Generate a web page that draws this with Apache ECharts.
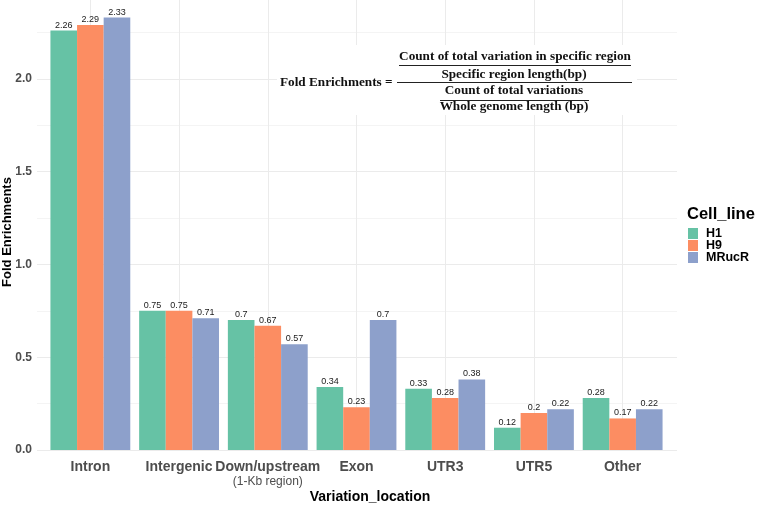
<!DOCTYPE html>
<html>
<head>
<meta charset="utf-8">
<script src="https://cdn.jsdelivr.net/npm/echarts@6/dist/echarts.min.js"></script>
<style>html,body{margin:0;padding:0;background:#fff}#c{width:758px;height:506px}</style>
</head>
<body>
<div id="c"></div>
<script>
const categories = ['Intron', 'Intergenic', 'Down/upstream\n(1-Kb region)', 'Exon', 'UTR3', 'UTR5', 'Other'];
const seriesNames = ['H1', 'H9', 'MRucR'];
const h1Values = [2.26, 0.75, 0.70, 0.34, 0.33, 0.12, 0.28];
const h9Values = [2.29, 0.75, 0.67, 0.23, 0.28, 0.20, 0.17];
const mrucrValues = [2.33, 0.71, 0.57, 0.70, 0.38, 0.22, 0.22];
const colors = ['#66c2a5', '#fc8d62', '#8da0cb'];
const xTitle = 'Variation_location';
const yTitle = 'Fold Enrichments';
const legendTitle = 'Cell_line';
const formulaLeft = 'Fold Enrichments =';
const formulaNum1 = 'Count of total variation in specific region';
const formulaNum2 = 'Specific region length(bp)';
const formulaDen1 = 'Count of total variations';
const formulaDen2 = 'Whole genome length (bp)';

const SANS = '"Liberation Sans", Arial, sans-serif';
const SERIF = '"Liberation Serif", "Times New Roman", serif';

const cv = document.createElement('canvas').getContext('2d');
function fitSize(text, w) {
  cv.font = 'bold 100px ' + SERIF;
  return 100 * w / cv.measureText(text).width;
}
const fSize = fitSize(formulaNum1, 232);

function ftext(text, x, y, align) {
  return {type: 'text', x: x, y: y, z: 110,
    style: {text: text, fontSize: fSize, fontFamily: SERIF, fontWeight: 'bold', fill: '#111',
      align: align || 'center', verticalAlign: 'middle'}};
}
function fline(x1, x2, y) {
  return {type: 'line', z: 110, shape: {x1: x1, y1: y, x2: x2, y2: y}, style: {stroke: '#222', lineWidth: 1}};
}

const Y_MIN = 0, Y_MAX = 2.5, Y_STEP = 0.25;

const valueLists = [h1Values, h9Values, mrucrValues];
const series = seriesNames.map((n, i) => ({
  name: n, type: 'bar', data: valueLists[i],
  barGap: '0%', barCategoryGap: '10%',
  itemStyle: {color: colors[i]},
  label: {show: true, position: 'top', distance: 1, fontSize: 9, fontFamily: SANS, color: '#1a1a1a'},
  z: 2
}));
series.push({
  name: '_grid', type: 'line', data: [], z: 0, silent: true,
  markLine: {silent: true, symbol: 'none', animation: false, z: 0,
    label: {show: false},
    lineStyle: {color: '#ebebeb', width: 1, type: 'solid'},
    data: categories.map((c, i) => ({xAxis: i}))}
});

const chart = echarts.init(document.getElementById('c'), null, {renderer: 'canvas'});
chart.setOption({
  animation: false,
  backgroundColor: '#ffffff',
  textStyle: {fontFamily: SANS},
  grid: [
    {left: 46, right: 91, top: -14, bottom: 56, containLabel: false, outerBoundsMode: 'none'},
    {left: 37, right: 81, top: -14, bottom: 56, containLabel: false, outerBoundsMode: 'none'}
  ],
  title: {text: legendTitle, left: 687, top: 206, padding: 0,
    textStyle: {fontSize: 16.5, fontWeight: 'bold', color: '#000', fontFamily: SANS}},
  legend: {data: seriesNames, orient: 'vertical', left: 688, top: 227, padding: 0,
    icon: 'rect', itemWidth: 10, itemHeight: 11, itemGap: -1,
    textStyle: {fontSize: 12.5, fontWeight: 'bold', color: '#000', fontFamily: SANS, lineHeight: 12, padding: [0, 0, 0, 3]}},
  xAxis: [{
    type: 'category', data: categories, gridIndex: 0,
    name: xTitle, nameLocation: 'middle', nameGap: 40, nameMoveOverlap: false,
    nameTextStyle: {fontSize: 14, fontWeight: 'bold', color: '#000', fontFamily: SANS, padding: [0, 0, 0, 27]},
    axisLine: {show: false}, axisTick: {show: false},
    splitLine: {show: false},
    axisLabel: {
      margin: 10, interval: 0,
      formatter: v => {
        const p = v.split('\n');
        return p.length > 1 ? '{a|' + p[0] + '}\n{b|' + p[1] + '}' : '{a|' + v + '}';
      },
      rich: {
        a: {fontSize: 14, fontWeight: 'bold', color: '#4d4d4d', fontFamily: SANS, lineHeight: 15},
        b: {fontSize: 12, fontWeight: 'normal', color: '#4d4d4d', fontFamily: SANS, lineHeight: 14}
      }
    }
  }, {
    type: 'value', gridIndex: 1, show: false, min: 0, max: 1
  }],
  yAxis: [{
    type: 'value', gridIndex: 0, min: Y_MIN, max: Y_MAX, interval: Y_STEP,
    name: yTitle, nameLocation: 'middle', nameGap: 32, nameMoveOverlap: false,
    nameTextStyle: {fontSize: 13, fontWeight: 'bold', color: '#000', fontFamily: SANS, padding: [0, 28, 0, 0]},
    axisLine: {show: false}, axisTick: {show: false},
    axisLabel: {
      margin: 14, fontSize: 12, fontWeight: 'bold', color: '#4d4d4d', fontFamily: SANS,
      showMaxLabel: false,
      formatter: v => (Math.abs(v * 2 - Math.round(v * 2)) < 1e-6 && v < 2.4) ? v.toFixed(1) : ''
    },
    splitLine: {show: false}
  }, {
    type: 'value', gridIndex: 1, min: Y_MIN, max: Y_MAX, interval: Y_STEP,
    axisLine: {show: false}, axisTick: {show: false}, axisLabel: {show: false},
    splitLine: {show: true, lineStyle: {color: ['#ebebeb', '#f4f4f4'], width: 1}}
  }],
  series: series,
  graphic: [
    {type: 'rect', z: 100, shape: {x: 277, y: 45, width: 360, height: 70}, style: {fill: '#ffffff'}},
    ftext(formulaLeft, 280, 83, 'left'),
    fline(397, 632, 82.5),
    ftext(formulaNum1, 515, 57),
    fline(399, 631, 65.5),
    ftext(formulaNum2, 514, 75),
    ftext(formulaDen1, 514, 91),
    fline(440, 589, 100.5),
    ftext(formulaDen2, 514, 107)
  ]
});
</script>
</body>
</html>
